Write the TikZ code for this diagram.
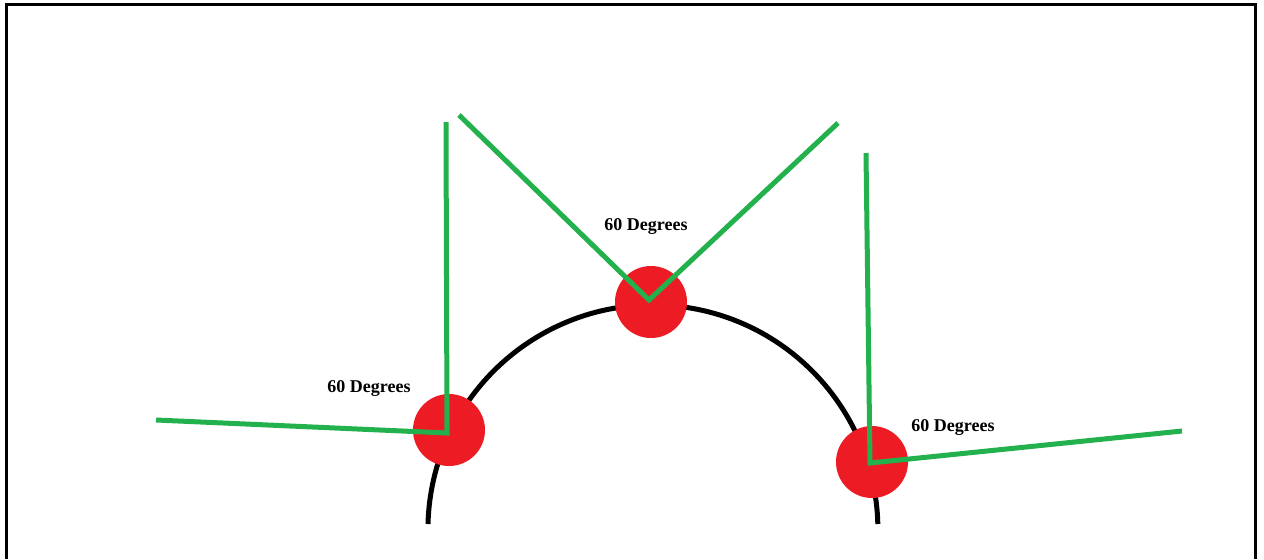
\documentclass[tikz,border=0pt]{standalone}
\usepackage{fontspec}
\setmainfont{Liberation Serif}
\definecolor{pred}{HTML}{ED1C24}
\definecolor{pgreen}{HTML}{22B14C}
\begin{document}
\begin{tikzpicture}[x=0.5pt,y=-0.5pt,
  dot/.style={circle,fill=pred,draw=none,minimum size=36pt,inner sep=0pt},
  ray/.style={draw=pgreen,line width=2.5pt},
  lbl/.style={font=\bfseries\fontsize{9}{10}\selectfont,anchor=base,inner sep=0pt}]
\useasboundingbox (0,0) rectangle (1264,559);
% frame (open at bottom)
\draw[line width=1.5pt] (6,559) -- (6,4) -- (1255,4) -- (1255,559);
% black arc
\coordinate (arcL) at (428,524);
\draw[line width=2.5pt] (arcL) arc[start angle=181.5,end angle=358.5,radius=225];
% red dots
\node[dot] (L) at (449,430) {};
\node[dot] (T) at (651,302) {};
\node[dot] (R) at (872,462) {};
% green rays
\coordinate (Lc) at (447,433);
\coordinate (La) at (156,420);
\coordinate (Lb) at (446,122);
\coordinate (Tc) at (649,300);
\coordinate (Ta) at (459,115);
\coordinate (Tb) at (838,123);
\coordinate (Rc) at (870,463);
\coordinate (Ra) at (866,153);
\coordinate (Rb) at (1182,431);
\draw[ray] (La) -- (Lc) -- (Lb);
\draw[ray] (Ta) -- (Tc) -- (Tb);
\draw[ray] (Ra) -- (Rc) -- (Rb);
% labels
\node[lbl] (tL) at (369,392) {60 Degrees};
\node[lbl] (tT) at (646,230) {60 Degrees};
\node[lbl] (tR) at (953,431) {60 Degrees};
\end{tikzpicture}
\end{document}
